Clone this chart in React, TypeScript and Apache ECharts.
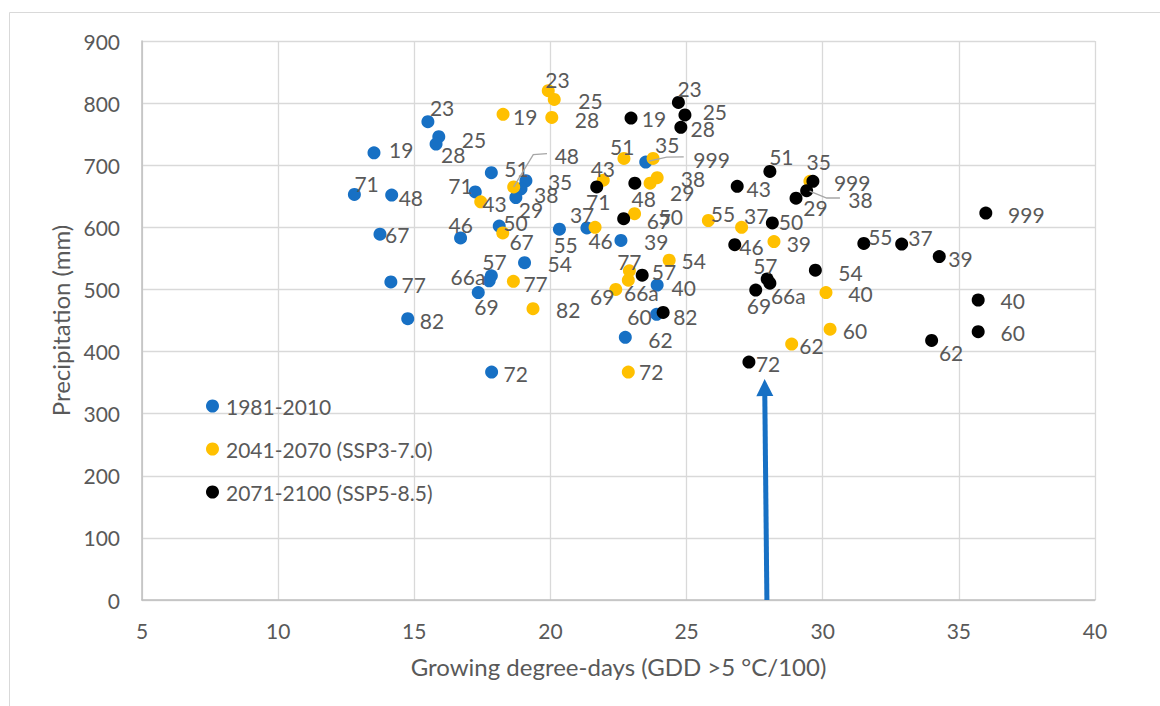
import React, { useEffect, useRef } from 'react';
import * as echarts from 'echarts';

const FONT = 'Lato';
const TEXT = '#595959';

const seriesNames = ['1981-2010', '2041-2070 (SSP3-7.0)', '2071-2100 (SSP5-8.5)'];
const seriesColors = ['#1770c4', '#ffc000', '#000000'];

// 1981-2010
const sites1981 = ['19', '23', '25', '28', '71', '48', '67', '46', '43', '51', '35', '38', '29', '50', '55', '37', '39', '54', '57', '66a', '69', '77', '82', '72', '40', '60', '62', '999'];
const gdd1981 = [13.52, 15.5, 15.9, 15.8, 12.8, 14.17, 13.74, 16.7, 17.24, 17.83, 19.1, 18.92, 18.73, 18.12, 20.33, 21.34, 22.59, 19.05, 17.83, 17.75, 17.35, 14.14, 14.76, 17.84, 23.92, 23.9, 22.75, 23.5];
const precip1981 = [720, 770, 746, 734, 653, 652, 589, 583, 657, 688, 675, 662, 648, 602, 597, 599, 579, 543, 522, 514, 495, 512, 453, 367, 507, 460, 423, 705];

// 2041-2070 (SSP3-7.0)
const sites2041 = ['19', '23', '25', '28', '71', '43', '48', '67', '51', '35', '999', '38', '29', '50', '55', '37', '39', '46', '54', '57', '66a', '69', '77', '82', '40', '60', '62', '72'];
const gdd2041 = [18.26, 19.92, 20.14, 20.05, 17.44, 21.94, 18.65, 18.25, 22.7, 23.77, 29.53, 23.92, 23.66, 23.09, 25.8, 27.02, 28.21, 21.64, 24.36, 22.9, 22.86, 22.4, 18.64, 19.36, 30.12, 30.27, 28.86, 22.86];
const precip2041 = [782, 820, 806, 777, 641, 676, 665, 591, 711, 711, 674, 680, 671, 622, 611, 600, 577, 600, 547, 530, 515, 500, 513, 469, 495, 436, 412, 367];

// 2071-2100 (SSP5-8.5)
const sites2071 = ['19', '23', '25', '28', '71', '48', '67', '43', '51', '35', '38', '29', '50', '46', '37', '55', '39', '999', '54', '57', '66a', '69', '40', '60', '62', '72', '82', '77'];
const gdd2071 = [22.96, 24.7, 24.94, 24.79, 21.7, 23.1, 22.69, 26.86, 28.06, 29.64, 29.41, 29.02, 28.15, 26.77, 32.9, 31.51, 34.28, 35.99, 29.73, 27.96, 28.06, 27.54, 35.71, 35.71, 34.0, 27.29, 24.14, 23.37];
const precip2071 = [776, 801, 781, 761, 665, 671, 614, 666, 690, 674, 659, 647, 607, 572, 573, 574, 553, 623, 531, 517, 510, 499, 483, 432, 418, 383, 463, 523];

// label placement (pixel offsets from the point centre to the label's left/middle)
const labelOffsets1981 = [[15, -3], [2, -14], [23, 3], [5, 10], [0, -11], [7, 2], [5, 0], [-12, -13], [7, 12], [13, -4], [22, 1], [13, 6], [3, 12], [4, -4], [-6, 15], [-17, -13], [23, 1.5], [23, 1], [-9, -14], [-38.6, -4], [-4, 14], [10.7, 2.3], [12, 2], [12, 1], [14.4, 2], [-29.4, 2.7], [23, 2], [47.6, -3]];
const labelOffsets2041 = [[10, 2], [-3, -11], [24, 1], [23, 2], [-32.4, -16.7], [-12.6, -11.7], [41, -31], [6.6, 9], [-14, -12.3], [2, -13.5], [24, 1.6], [23.7, 0.6], [20, 9], [24, 2.7], [2.4, -7], [2.5, -12], [12.7, 1.6], [-6.7, 13.4], [12.4, 0], [22.4, 0.7], [-4.3, 12.7], [-25.7, 6.8], [10, 2], [23, 0.6], [22.3, 1], [12.7, 1], [7.6, 1.7], [10.7, -0.6]];
const labelOffsets2071 = [[10.7, 0], [-1, -14.4], [17.7, -3.3], [9.7, 1], [-10.7, 14.4], [-3.3, 15], [23, 1.5], [9.4, 2], [-0.7, -14.6], [-6.3, -20], [41.6, 9], [7.3, 9], [6.5, -1.6], [4.6, 1.5], [6.6, -6.7], [4.3, -6.6], [9, 1.6], [22.3, 1.7], [23, 2.7], [-14, -13], [1, 12.7], [-9, 15.7], [22.4, 0.7], [22.4, 1], [7.3, 12], [7, 1.7], [10, 4], [-25, -13.3]];

// leader lines (series index, site, pixel path relative to the point)
const leaderLines = [
  { series: 0, site: '999', path: [[3, -1], [21, -5], [38, -5.3]] },
  { series: 1, site: '48', path: [[0, 0], [19.6, -32.3], [33.3, -33.3]] },
  { series: 2, site: '38', path: [[3, 0.5], [20, 7.3], [33.3, 7.3]] },
];

// arrow annotation (data coordinates)
const arrowStart = [27.95, 0];
const arrowEnd = [27.87, 342];

const allSites = [sites1981, sites2041, sites2071];
const allGdd = [gdd1981, gdd2041, gdd2071];
const allPrecip = [precip1981, precip2041, precip2071];
const allOffsets = [labelOffsets1981, labelOffsets2041, labelOffsets2071];

function buildSeries(i: number): any {
  const sites = allSites[i];
  const s: any = {
    type: 'scatter',
    name: seriesNames[i],
    symbol: 'circle',
    symbolSize: 13,
    itemStyle: { color: seriesColors[i], opacity: 1 },
    emphasis: { disabled: true },
    label: {
      show: true,
      position: 'inside',
      align: 'left',
      verticalAlign: 'middle',
      formatter: '{b}',
      color: TEXT,
      fontFamily: FONT,
      fontSize: 21,
    },
    data: sites.map((site, k) => ({
      name: site,
      value: [allGdd[i][k], allPrecip[i][k]],
      label: { offset: allOffsets[i][k] },
    })),
  };
  if (i === 0) {
    s.markLine = {
      silent: true,
      symbol: ['none', 'triangle'],
      symbolSize: 17,
      label: { show: false },
      lineStyle: { color: seriesColors[0], width: 5, type: 'solid', opacity: 1 },
      emphasis: { disabled: true },
      data: [[{ coord: arrowStart }, { coord: arrowEnd }]],
    };
  }
  return s;
}

export default function App() {
  const ref = useRef<HTMLDivElement>(null);
  useEffect(() => {
    if (!ref.current) return;
    const chart = echarts.init(ref.current, null, { renderer: 'svg' });
    const axisText = { color: TEXT, fontFamily: FONT, fontSize: 21 };
    const titleText = { color: TEXT, fontFamily: FONT, fontSize: 24 };
    chart.setOption({
      animation: false,
      backgroundColor: '#ffffff',
      grid: { left: 142, top: 41, right: 65, bottom: 106 },
      legend: {
        orient: 'vertical',
        left: 201,
        top: 389,
        itemWidth: 13,
        itemHeight: 13,
        itemGap: 19,
        icon: 'circle',
        textStyle: { ...axisText, lineHeight: 24, padding: [0, 0, 0, 2] },
        data: seriesNames,
        selectedMode: false,
      },
      xAxis: {
        type: 'value',
        min: 5,
        max: 40,
        interval: 5,
        name: 'Growing degree-days (GDD >5 °C/100)',
        nameLocation: 'middle',
        nameGap: 54,
        nameTextStyle: titleText,
        axisLine: { show: true, onZero: false, lineStyle: { color: '#bfbfbf', width: 1.5 } },
        axisTick: { show: false },
        axisLabel: { ...axisText, margin: 20 },
        splitLine: { show: true, lineStyle: { color: '#d9d9d9', width: 1.3 } },
      },
      yAxis: {
        type: 'value',
        min: 0,
        max: 900,
        interval: 100,
        name: 'Precipitation (mm)',
        nameLocation: 'middle',
        nameGap: 66,
        nameRotate: 90,
        nameTextStyle: titleText,
        axisLine: { show: true, onZero: false, lineStyle: { color: '#bfbfbf', width: 1.5 } },
        axisTick: { show: false },
        axisLabel: { ...axisText, margin: 22 },
        splitLine: { show: true, lineStyle: { color: '#d9d9d9', width: 1.3 } },
      },
      series: [buildSeries(0), buildSeries(1), buildSeries(2)],
    });

    const graphics: any[] = [
      {
        type: 'rect',
        silent: true,
        z: -1,
        shape: { x: 9.5, y: 12.5, width: 1400, height: 900 },
        style: { fill: 'none', stroke: '#d9d9d9', lineWidth: 1 },
      },
    ];
    leaderLines.forEach((l) => {
      const k = allSites[l.series].indexOf(l.site);
      const p = chart.convertToPixel({ gridIndex: 0 }, [allGdd[l.series][k], allPrecip[l.series][k]]) as number[];
      graphics.push({
        type: 'polyline',
        silent: true,
        z: 10,
        shape: { points: l.path.map(([dx, dy]) => [p[0] + dx, p[1] + dy]) },
        style: { stroke: '#a6a6a6', lineWidth: 1.3, fill: 'none' },
      });
    });
    chart.setOption({ graphic: graphics });

    return () => chart.dispose();
  }, []);
  return (
    <div
      ref={ref}
      style={{ position: 'fixed', left: 0, top: 0, width: 1160, height: 706, background: '#fff' }}
    />
  );
}
